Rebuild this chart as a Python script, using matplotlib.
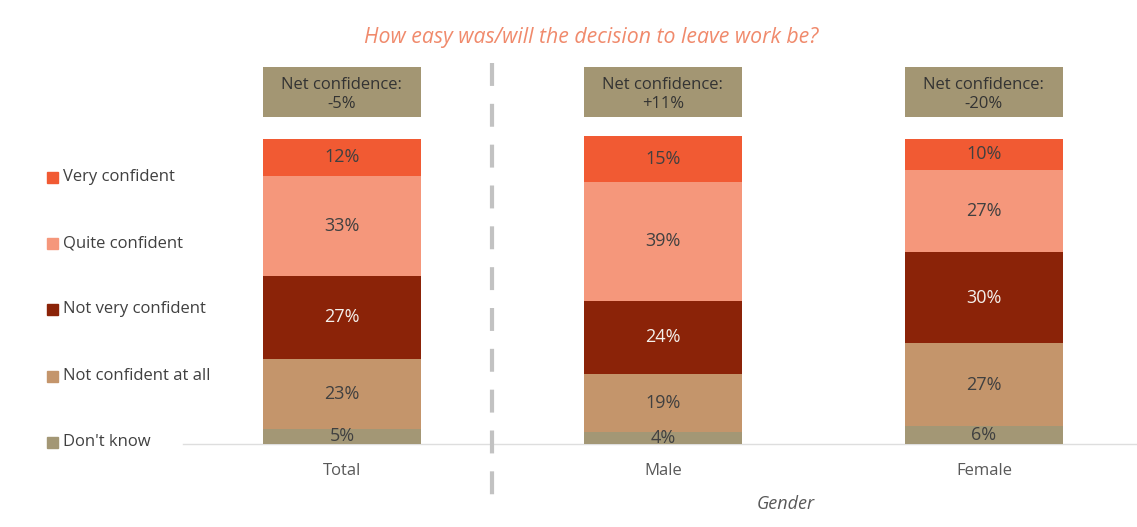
import numpy as np
import matplotlib
matplotlib.use('Agg')
import matplotlib.pyplot as plt
from matplotlib.patches import Rectangle

plt.rcParams['font.family'] = ['Open Sans', 'DejaVu Sans']

groups = ['Total', 'Male', 'Female']
levels = ["Don't know", 'Not confident at all', 'Not very confident', 'Quite confident', 'Very confident']
dont_know = [5, 4, 6]
not_at_all = [23, 19, 27]
not_very = [27, 24, 30]
quite = [33, 39, 27]
very = [12, 15, 10]

colors = ['#A39775', '#C4956B', '#8B2308', '#F5977B', '#F15A33']
text_colors = ['#404040', '#404040', '#F4F0EC', '#404040', '#404040']

series = [dont_know, not_at_all, not_very, quite, very]
# net = confident minus not confident
net = [(v + q) - (nv + na) for v, q, nv, na in zip(very, quite, not_very, not_at_all)]

fig = plt.figure(figsize=(11.37, 5.27), dpi=100)
W, H = 1137, 527
ax = fig.add_axes([183 / W, (H - 444) / H, (W - 183) / W, 444 / H])
ax.set_xlim(-0.495, 2.477)
ax.set_ylim(0, 444 / 3.05)
ax.axis('off')

x = np.arange(len(groups))
width = 0.49
bottom = np.zeros(len(groups))
for vals, col, tcol in zip(series, colors, text_colors):
    vals = np.array(vals)
    ax.bar(x, vals, width, bottom=bottom, color=col, edgecolor='none')
    for xi, b, v in zip(x, bottom, vals):
        ax.text(xi, b + v / 2, f'{v}%', ha='center', va='center',
                fontsize=13, color=tcol)
    bottom += vals

# baseline
ax.axhline(0, color='#DEDEDE', lw=1, clip_on=False, zorder=0)

# net confidence boxes
box_lo, box_hi = (444 - 117) / 3.05, (444 - 67) / 3.05
for xi, n in zip(x, net):
    ax.bar(xi, box_hi - box_lo, width, bottom=box_lo, color='#A39673', edgecolor='none')
    sign = '+' if n > 0 else ''
    ax.text(xi, (box_lo + box_hi) / 2 - 0.8, f'Net confidence:\n{sign}{n}%', ha='center',
            va='center', fontsize=12, color='#333333', linespacing=1.3)

# category labels
for xi, g in zip(x, groups):
    fig.text((342 + 321 * xi) / W, 1 - 471 / H, g, ha='center', va='center',
             fontsize=12, color='#595959')
fig.text(786 / W, 1 - 504 / H, 'Gender', ha='center', va='center',
         fontsize=13, style='italic', color='#595959')

# dashed divider
fig.add_artist(plt.Line2D([492 / W, 492 / W], [1 - 63 / H, 1 - 495 / H],
                          color='#C2C2C2', lw=3, dashes=(5.5, 4.3)))

# title
fig.text(591 / W, 1 - 38 / H, 'How easy was/will the decision to leave work be?',
         ha='center', va='center', fontsize=15.3, style='italic', color='#F08A6C')

# legend
leg_y = [442, 376, 309, 243, 177]
for lab, col, yy in zip(levels, colors, leg_y):
    fig.add_artist(Rectangle((47 / W, 1 - (yy + 6) / H), 11 / W, 11 / H,
                             color=col, transform=fig.transFigure))
    fig.text(63 / W, 1 - yy / H, lab, ha='left', va='center',
             fontsize=12, color='#404040')

fig.savefig('out.png', dpi=100)
